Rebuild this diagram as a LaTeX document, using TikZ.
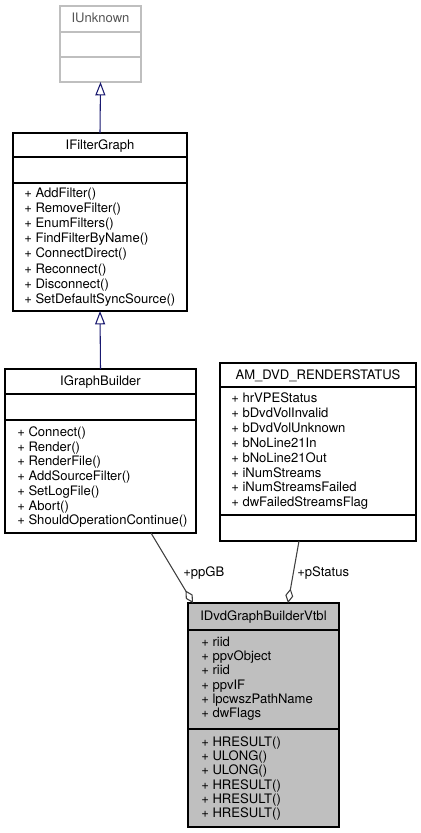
\documentclass[tikz,border=0pt]{standalone}
\usepackage{fontspec}
\setmainfont{TeX Gyre Heros}
\usetikzlibrary{arrows.meta,calc}
\definecolor{navyline}{HTML}{191970}
\definecolor{aggline}{HTML}{404040}
\definecolor{extgray}{HTML}{BFBFBF}
\definecolor{exttext}{HTML}{555555}
\definecolor{fillgray}{HTML}{BFBFBF}
\newcommand\dfont{\fontsize{9.8}{11}\selectfont}
\tikzset{
  cls/.style={draw=black, line width=0.8pt, inner sep=0pt, outer sep=0pt, anchor=north west, fill=white},
  extcls/.style={cls, draw=extgray},
  ttl/.style={font=\dfont, anchor=base, inner sep=0pt},
  mem/.style={font=\dfont, anchor=base west, inner sep=0pt},
  sep/.style={line width=0.8pt},
  inh/.style={draw=navyline, line width=0.8pt, -{Triangle[open, length=10pt, width=7.5pt, fill=white]}},
  agg/.style={draw=aggline, line width=0.8pt, -{Diamond[open, length=11pt, width=6pt, fill=white]}},
  lbl/.style={font=\dfont, anchor=base west, inner sep=0pt},
}
\begin{document}
\begin{tikzpicture}[x=0.75pt, y=-0.75pt]
\useasboundingbox (0,0) rectangle (421,833);

% IUnknown
\node[extcls, minimum width=60.75pt, minimum height=57pt] (iu) at (60,6) {};
\draw[sep, extgray] ($(iu.north west)+(0,26)$) -- ($(iu.north east)+(0,26)$);
\draw[sep, extgray] ($(iu.north west)+(0,51)$) -- ($(iu.north east)+(0,51)$);
\node[ttl, text=exttext] (iut) at (100.5,22.5) {IUnknown};

% IFilterGraph
\node[cls, minimum width=130.5pt, minimum height=133.5pt] (fg) at (13,133) {};
\draw[sep] ($(fg.north west)+(0,24)$) -- ($(fg.north east)+(0,24)$);
\draw[sep] ($(fg.north west)+(0,50)$) -- ($(fg.north east)+(0,50)$);
\node[ttl] (fgt) at (100,149.5) {IFilterGraph};
\foreach \t [count=\i from 0] in {AddFilter(),RemoveFilter(),EnumFilters(),FindFilterByName(),ConnectDirect(),Reconnect(),Disconnect(),SetDefaultSyncSource()}
  \node[mem] (fgm\i) at (24,197.5+15.1*\i) {+ \t};

% IGraphBuilder
\node[cls, minimum width=143.25pt, minimum height=123pt] (gb) at (5,369) {};
\draw[sep] ($(gb.north west)+(0,25)$) -- ($(gb.north east)+(0,25)$);
\draw[sep] ($(gb.north west)+(0,51)$) -- ($(gb.north east)+(0,51)$);
\node[ttl] (gbt) at (100.5,385.5) {IGraphBuilder};
\foreach \t [count=\i from 0] in {Connect(),Render(),RenderFile(),AddSourceFilter(),SetLogFile(),Abort(),ShouldOperationContinue()}
  \node[mem] (gbm\i) at (17,436.5+14.7*\i) {+ \t};

% AM_DVD_RENDERSTATUS
\node[cls, minimum width=147pt, minimum height=133.5pt] (am) at (220,363) {};
\draw[sep] ($(am.north west)+(0,24)$) -- ($(am.north east)+(0,24)$);
\draw[sep] ($(am.north west)+(0,152)$) -- ($(am.north east)+(0,152)$);
\node[ttl] (amt) at (318,379.5) {AM\_DVD\_RENDERSTATUS};
\foreach \t [count=\i from 0] in {hrVPEStatus,bDvdVolInvalid,bDvdVolUnknown,bNoLine21In,bNoLine21Out,iNumStreams,iNumStreamsFailed,dwFailedStreamsFlag}
  \node[mem] (amm\i) at (231,402.5+14.9*\i) {+ \t};

% IDvdGraphBuilderVtbl
\node[cls, fill=fillgray, minimum width=113.25pt, minimum height=168pt] (vt) at (188,603) {};
\draw[sep] ($(vt.north west)+(0,27)$) -- ($(vt.north east)+(0,27)$);
\draw[sep] ($(vt.north west)+(0,126)$) -- ($(vt.north east)+(0,126)$);
\node[ttl] (vtt) at (263.5,620.5) {IDvdGraphBuilderVtbl};
\foreach \t [count=\i from 0] in {riid,ppvObject,riid,ppvIF,lpcwszPathName,dwFlags}
  \node[mem] (vta\i) at (201,646.5+14.2*\i) {+ \t};
\foreach \t [count=\i from 0] in {HRESULT(),ULONG(),ULONG(),HRESULT(),HRESULT(),HRESULT()}
  \node[mem] (vtm\i) at (201,746.5+14.2*\i) {+ \t};

% inheritance
\draw[inh] (fg.north) -- (iu.south);
\draw[inh] (gb.north) -- (fg.south);

% aggregation
\draw[agg] ($(gb.south west)+(146,0)$) -- ($(vt.north west)+(5,0)$);
\draw[agg] ($(am.south west)+(79,0)$) -- ($(vt.north west)+(100,0)$);
\node[lbl] (l1) at (183,576.5) {+ppGB};
\node[lbl] (l2) at (297,576.5) {+pStatus};
\end{tikzpicture}
\end{document}
